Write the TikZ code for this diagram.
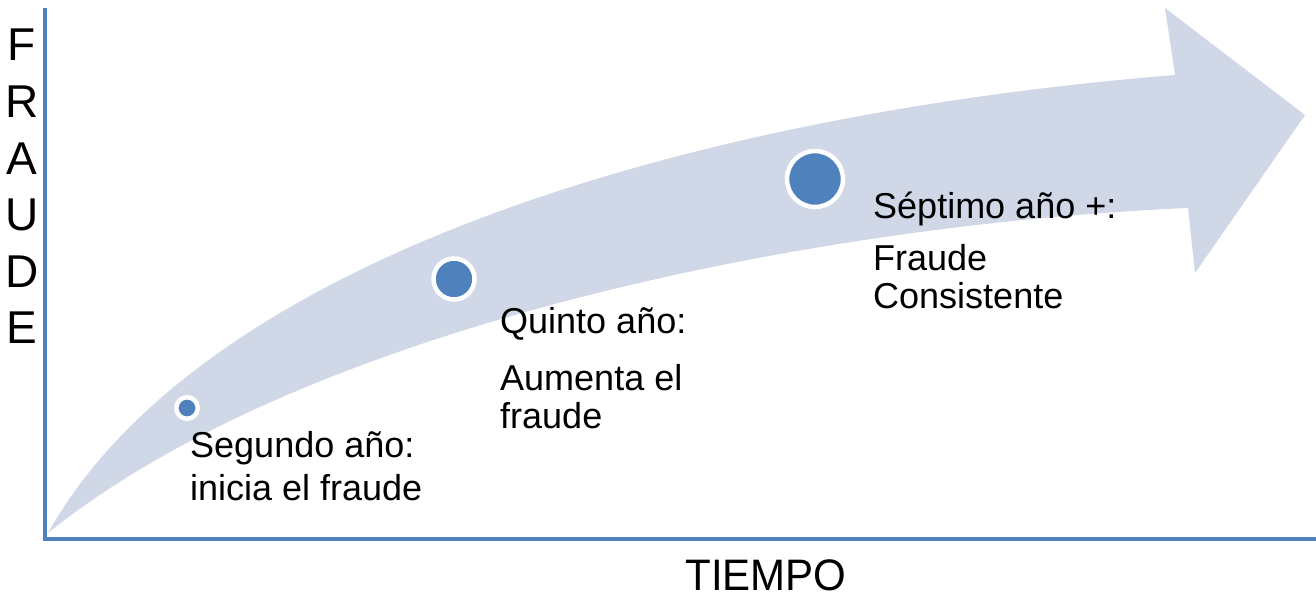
\documentclass[tikz,border=0pt]{standalone}
\usepackage{fontspec}
\setmainfont{Liberation Sans}
\definecolor{ejeazul}{RGB}{79,129,189}
\definecolor{flechagris}{RGB}{208,216,232}
\begin{document}
\begin{tikzpicture}[x=1pt,y=-1pt,
    etiqueta/.style={anchor=base west, inner sep=0pt, font=\fontsize{36}{40}\selectfont},
    punto/.style={circle, fill=ejeazul, draw=white, line width=4.5pt, inner sep=0pt},
    letra/.style={inner sep=0pt, font=\fontsize{46}{46}\selectfont}]
    \useasboundingbox (0,0) rectangle (1316,597);

    % flecha curva de fondo
    \fill[flechagris] (48,533) .. controls (200,262) and (680,115) .. (1175,75)
        -- (1165,8) -- (1305,115) -- (1195,273) -- (1188,208)
        .. controls (800,225) and (300,330) .. (48,533) -- cycle;

    % ejes
    \draw[ejeazul, line width=4pt] (45,8) -- (45,539) -- (1316,539);

    % puntos sobre la flecha
    \node[punto, minimum size=21.5pt] (p1) at (187,408) {};
    \node[punto, minimum size=41pt] (p2) at (454,279) {};
    \node[punto, minimum size=56pt] (p3) at (815,179) {};

    % textos de cada etapa
    \node[etiqueta] (s1) at (190,457) {Segundo año:};
    \node[etiqueta] (s1b) at (190,500) {inicia el fraude};

    \node[etiqueta] (s2) at (500,333) {Quinto año:};
    \node[etiqueta] (s2b) at (500,390) {Aumenta el};
    \node[etiqueta] (s2c) at (500,428) {fraude};

    \node[etiqueta] (s3) at (873,218) {Séptimo año +:};
    \node[etiqueta] (s3b) at (873,270) {Fraude};
    \node[etiqueta] (s3c) at (873,308) {Consistente};

    % nombres de los ejes
    \foreach \l [count=\i] in {F,R,A,U,D,E} {
        \node[letra] (f\i) at (22, 45+56.6*\i-56.6) {\l};
    }
    \node[letra, font=\fontsize{42}{42}\selectfont, yscale=1.05] (tiempo) at (766,575) {TIEMPO};
\end{tikzpicture}
\end{document}
